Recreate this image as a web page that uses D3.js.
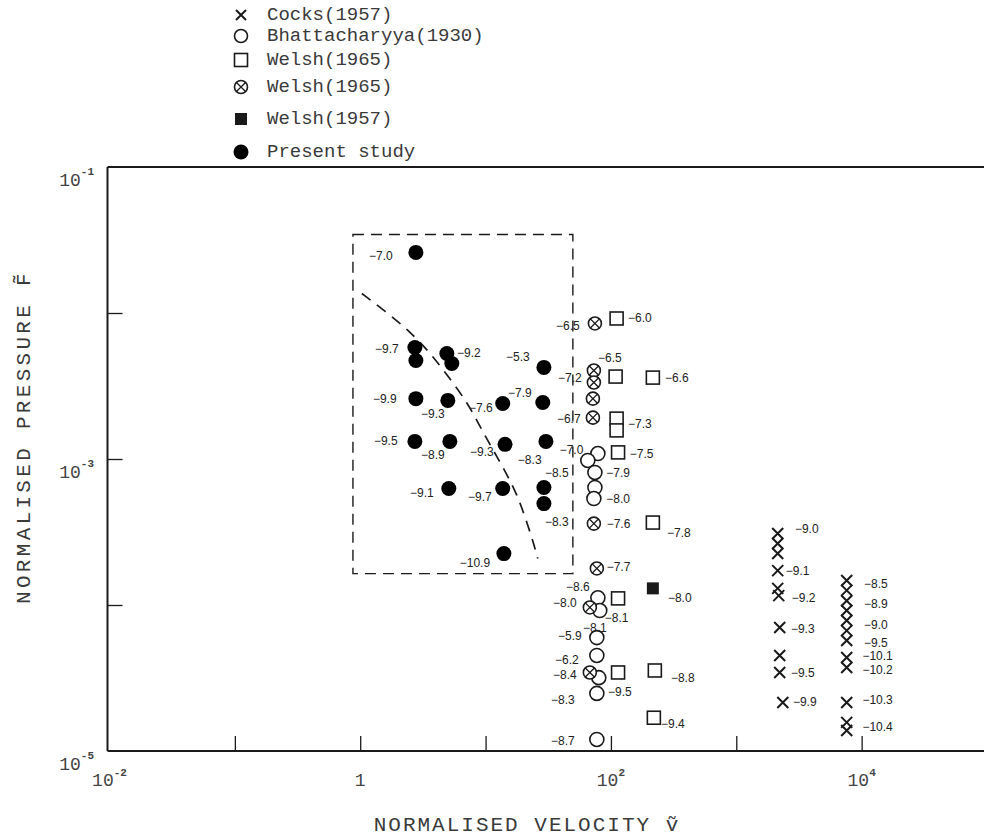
<!DOCTYPE html>
<html>
<head>
<meta charset="utf-8">
<script src="https://cdn.jsdelivr.net/npm/d3@7/dist/d3.min.js"></script>
<style>
  body { margin: 0; background: #fff; }
  svg { display: block; }
</style>
</head>
<body>
<script>
// Present study (filled circles)
const presentV = [2.78, 2.73, 2.78, 4.91, 5.38, 29.2, 2.78, 5.0, 13.7, 28.6, 2.73, 5.19, 14.3, 30.3, 5.09, 13.7, 29.2, 29.2, 14.0];
const presentP = [0.026, 0.0058, 0.00473, 0.00528, 0.00451, 0.00424, 0.00259, 0.00252, 0.0024, 0.00244, 0.00132, 0.00132, 0.00126, 0.00132, 0.000628, 0.000628, 0.000638, 0.000495, 0.000225];

// Welsh (1965), crossed circles
const welshXV = [74.5, 73.1, 73.1, 71.8, 71.8, 73.1, 77.2, 67.9, 67.9];
const welshXP = [0.00848, 0.00404, 0.00334, 0.00259, 0.00192, 0.000361, 0.000178, 9.62e-5, 3.45e-5];

// Bhattacharyya (1930), open circles
const bhattV = [78.7, 65.4, 74.5, 74.5, 73.1, 78.7, 81.5, 77.2, 77.2, 80.0, 77.2, 77.2];
const bhattP = [0.00109, 0.000977, 0.000809, 0.000638, 0.000536, 0.000112, 9.16e-5, 5.98e-5, 4.51e-5, 3.18e-5, 2.48e-5, 1.2e-5];

// Welsh (1965), open squares
const welshSqV = [111, 109, 216, 111, 111, 114, 216, 114, 114, 224, 220];
const welshSqP = [0.00917, 0.00367, 0.00361, 0.00189, 0.00157, 0.00111, 0.000367, 0.000111, 3.45e-5, 3.56e-5, 1.69e-5];

// Welsh (1957), filled square
const welsh57V = [216];
const welsh57P = [0.00013];

// Cocks (1957), crosses
const cocksV = [2140, 2140, 2140, 2140, 2140, 2180, 2220, 2220, 2220, 2350,
  7600, 7600, 7600, 7600, 7600, 7600, 7600, 7600, 7600, 7600, 7600, 7600];
const cocksP = [0.000309, 0.000264, 0.000225, 0.000172, 0.00013, 0.000116, 7.01e-5, 4.51e-5, 3.45e-5, 2.15e-5,
  0.000147, 0.000126, 0.000107, 9.16e-5, 7.83e-5, 6.68e-5, 5.71e-5, 4.37e-5, 3.73e-5, 2.15e-5, 1.57e-5, 1.38e-5];

// value labels written next to the points
const labelText = [
  "−7.0", "−9.7", "−9.2", "−5.3", "−9.9", "−9.3", "−7.6", "−7.9", "−9.5", "−8.9", "−9.3", "−8.3", "−8.5", "−9.1", "−9.7", "−8.3", "−10.9",
  "−6.5", "−6.5", "−7.2", "−6.7", "−7.6", "−7.7", "−8.0", "−8.4",
  "−7.0", "−7.9", "−8.0", "−8.6", "−8.1", "−8.1", "−5.9", "−6.2", "−8.3", "−9.5", "−8.7",
  "−6.0", "−6.6", "−7.3", "−7.5", "−7.8", "−8.8", "−9.4",
  "−8.0",
  "−9.0", "−9.1", "−9.2", "−9.3", "−9.5", "−9.9",
  "−8.5", "−8.9", "−9.0", "−9.5", "−10.1", "−10.2", "−10.3", "−10.4"
];
const labelV = [
  1.46, 1.63, 7.36, 18.1, 1.57, 3.8, 9.17, 18.8, 1.6, 3.8, 9.34, 22.5, 37.0, 3.1, 9.01, 37.0, 8.22,
  45.3, 98, 47.0, 46.1, 115, 115, 42.9, 42.9,
  48.5, 114, 114, 54.5, 111, 74.5, 47.0, 44.5, 41.4, 118, 41.4,
  170, 335, 170, 176, 348, 374, 312,
  354,
  3650, 3090, 3450, 3390, 3390, 3520,
  13000, 13000, 13000, 13000, 13400, 13400, 13400, 13400
];
const labelP = [
  0.0244, 0.00571, 0.00528, 0.00496, 0.00259, 0.00202, 0.00222, 0.00281, 0.00132, 0.00106, 0.00111, 0.000977, 0.000796, 0.000581, 0.000545, 0.000373, 0.000195,
  0.00821, 0.00488, 0.00356, 0.00189, 0.000361, 0.000181, 0.000104, 3.29e-5,
  0.00116, 0.000796, 0.000536, 0.000132, 8.2e-5, 7.01e-5, 6.18e-5, 4.17e-5, 2.22e-5, 2.52e-5, 1.18e-5,
  0.00917, 0.00361, 0.00175, 0.00109, 0.000309, 3.18e-5, 1.54e-5,
  0.000111,
  0.000334, 0.000172, 0.000112, 6.9e-5, 3.4e-5, 2.15e-5,
  0.00014, 0.000102, 7.24e-5, 5.45e-5, 4.45e-5, 3.6e-5, 2.22e-5, 1.45e-5
];

// dashed trend curve and dashed box (present study region)
const curveV = [1.03, 1.63, 2.49, 3.6, 5.19, 7.22, 8.68, 10.4, 12.3, 14.8, 17.8, 20.6, 23.8, 26.1];
const curveP = [0.0136, 0.0101, 0.00747, 0.00536, 0.00356, 0.0024, 0.00178, 0.00134, 0.00104, 0.000783, 0.000571, 0.000404, 0.000277, 0.000208];
const boxV = [0.875, 49.7];
const boxP = [0.000164, 0.0345];

// axes
const xTicks = [1e-1, 1, 10, 100, 1000, 1e4];
const yTicks = [1e-2, 1e-3, 1e-4];
const xTickLabels = [1e-2, 1, 1e2, 1e4];
const xTickExp = ["-2", "", "2", "4"];
const yTickLabels = [1e-1, 1e-3, 1e-5];
const yTickExp = ["-1", "-3", "-5"];

const legendNames = ["Cocks(1957)", "Bhattacharyya(1930)", "Welsh(1965)", "Welsh(1965)", "Welsh(1957)", "Present study"];
const legendShapes = ["cross", "circle", "square", "xcircle", "fsquare", "dot"];

const width = 990;
const height = 838;
const ink = "#1a1a1a";
const mono = "'Liberation Mono', 'DejaVu Sans Mono', monospace";
const sans = "'Liberation Sans', Arial, sans-serif";

const svg = d3
  .select("body")
  .append("svg")
  .attr("width", width)
  .attr("height", height)
  .style("background", "#fff");

const x = d3.scaleLog().domain([1e-2, 1e5]).range([109.5, 987]);
const y = d3.scaleLog().domain([1e-5, 1e-1]).range([751, 167]);

// frame
svg.append("line")
  .attr("x1", x(1e-2) - 2).attr("x2", width - 6)
  .attr("y1", y(1e-1)).attr("y2", y(1e-1))
  .attr("stroke", ink).attr("stroke-width", 2.2);

const xAxis = svg.append("g")
  .attr("transform", `translate(0, ${y(1e-5)})`)
  .call(d3.axisBottom(x).tickValues(xTicks).tickSize(-15).tickSizeOuter(0).tickFormat(""));

const yAxis = svg.append("g")
  .attr("transform", `translate(${x(1e-2) - 2}, 0)`)
  .call(d3.axisLeft(y).tickValues(yTicks).tickSize(-15).tickSizeOuter(0).tickFormat(""));

[xAxis, yAxis].forEach((g) => {
  g.select(".domain").attr("stroke", ink).attr("stroke-width", 2);
  g.selectAll(".tick line").attr("stroke", ink).attr("stroke-width", 1.3);
});
yAxis.select(".domain").attr("d", `M0,${y(1e-1)}V${y(1e-5)}`);
xAxis.select(".domain").attr("d", `M${x(1e-2) - 2},0H${width - 6}`);

// tick labels, "10" with superscript exponent
const xLab = svg.selectAll(".xlab").data(xTickLabels).enter().append("text")
  .attr("class", "xlab")
  .attr("x", (d) => x(d))
  .attr("y", 786)
  .attr("text-anchor", "middle")
  .attr("font-family", mono)
  .attr("font-size", 18)
  .attr("fill", "#444");
xLab.append("tspan").text((d, i) => (xTickExp[i] === "" ? "1" : "10"));
xLab.append("tspan")
  .attr("dy", -10)
  .attr("font-size", 11)
  .attr("font-weight", "bold")
  .text((d, i) => xTickExp[i]);

const yLab = svg.selectAll(".ylab").data(yTickLabels).enter().append("text")
  .attr("class", "ylab")
  .attr("x", 94)
  .attr("y", (d) => y(d) + 19)
  .attr("text-anchor", "end")
  .attr("font-family", mono)
  .attr("font-size", 18)
  .attr("fill", "#444");
yLab.append("tspan").text("10");
yLab.append("tspan")
  .attr("dy", -11)
  .attr("font-size", 11)
  .attr("font-weight", "bold")
  .text((d, i) => yTickExp[i]);

// axis titles
svg.append("text")
  .attr("x", 527)
  .attr("y", 831)
  .attr("text-anchor", "middle")
  .attr("font-family", mono)
  .attr("font-size", 21)
  .attr("letter-spacing", 2)
  .attr("fill", "#3a3a3a")
  .text("NORMALISED VELOCITY ṽ");

svg.append("text")
  .attr("transform", "translate(30, 437) rotate(-90)")
  .attr("text-anchor", "middle")
  .attr("font-family", mono)
  .attr("font-size", 21)
  .attr("letter-spacing", 3.3)
  .attr("fill", "#3a3a3a")
  .text("NORMALISED PRESSURE F\u0303");

// dashed box and curve
svg.append("rect")
  .attr("x", x(boxV[0]))
  .attr("y", y(boxP[1]))
  .attr("width", x(boxV[1]) - x(boxV[0]))
  .attr("height", y(boxP[0]) - y(boxP[1]))
  .attr("fill", "none")
  .attr("stroke", ink)
  .attr("stroke-width", 1.4)
  .attr("stroke-dasharray", "11,7");

const curvePts = curveV.map((v, i) => [x(v), y(curveP[i])]);
svg.append("path")
  .attr("d", d3.line().curve(d3.curveBasis)(curvePts))
  .attr("fill", "none")
  .attr("stroke", ink)
  .attr("stroke-width", 1.7)
  .attr("stroke-dasharray", "11,8");

// marker drawing
function drawMarker(g, shape, cx, cy, s) {
  if (shape === "cross") {
    g.append("path")
      .attr("d", `M${cx - s},${cy - s}L${cx + s},${cy + s}M${cx - s},${cy + s}L${cx + s},${cy - s}`)
      .attr("stroke", ink).attr("stroke-width", 2).attr("fill", "none");
  } else if (shape === "circle") {
    g.append("circle").attr("cx", cx).attr("cy", cy).attr("r", s)
      .attr("fill", "#fff").attr("stroke", ink).attr("stroke-width", 1.6);
  } else if (shape === "xcircle") {
    g.append("circle").attr("cx", cx).attr("cy", cy).attr("r", s)
      .attr("fill", "#fff").attr("stroke", ink).attr("stroke-width", 1.6);
    const k = s * 0.7;
    g.append("path")
      .attr("d", `M${cx - k},${cy - k}L${cx + k},${cy + k}M${cx - k},${cy + k}L${cx + k},${cy - k}`)
      .attr("stroke", ink).attr("stroke-width", 1.3);
  } else if (shape === "square") {
    g.append("rect").attr("x", cx - s).attr("y", cy - s).attr("width", 2 * s).attr("height", 2 * s)
      .attr("fill", "#fff").attr("stroke", ink).attr("stroke-width", 1.6);
  } else if (shape === "fsquare") {
    g.append("rect").attr("x", cx - s).attr("y", cy - s).attr("width", 2 * s).attr("height", 2 * s)
      .attr("fill", ink);
  } else if (shape === "dot") {
    g.append("circle").attr("cx", cx).attr("cy", cy).attr("r", s).attr("fill", "#000");
  }
}

const series = [
  { v: bhattV, p: bhattP, shape: "circle", size: 7 },
  { v: welshXV, p: welshXP, shape: "xcircle", size: 6.5 },
  { v: welshSqV, p: welshSqP, shape: "square", size: 6.5 },
  { v: welsh57V, p: welsh57P, shape: "fsquare", size: 6 },
  { v: cocksV, p: cocksP, shape: "cross", size: 5.5 },
  { v: presentV, p: presentP, shape: "dot", size: 7.5 }
];

const marks = svg.append("g");
series.forEach((s) => {
  s.v.forEach((v, i) => drawMarker(marks, s.shape, x(v), y(s.p[i]), s.size));
});

// value labels
svg.append("g")
  .selectAll("text")
  .data(labelText)
  .enter()
  .append("text")
  .attr("x", (d, i) => x(labelV[i]))
  .attr("y", (d, i) => y(labelP[i]))
  .attr("text-anchor", "middle")
  .attr("dominant-baseline", "central")
  .attr("font-family", sans)
  .attr("font-size", 12)
  .attr("fill", "#222")
  .text((d) => d);

// legend
const legendY = [15, 36, 60, 87, 119, 152];
const legendSize = [5, 6.5, 6.5, 6.5, 6, 7.5];
const legend = svg.append("g");
legendNames.forEach((name, i) => {
  drawMarker(legend, legendShapes[i], 241, legendY[i], legendSize[i]);
  legend.append("text")
    .attr("x", 267)
    .attr("y", legendY[i])
    .attr("dominant-baseline", "central")
    .attr("font-family", mono)
    .attr("font-size", 19)
    .attr("fill", "#3a3a3a")
    .text(name);
});
</script>
</body>
</html>
